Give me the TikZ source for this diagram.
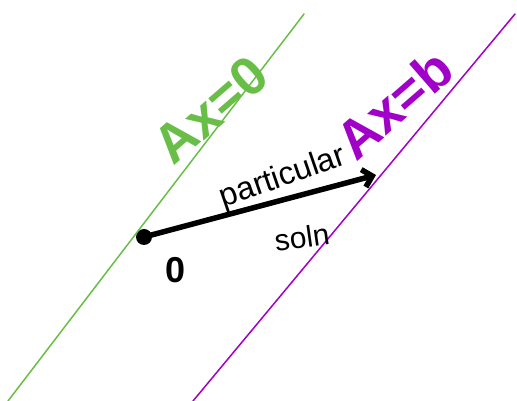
\documentclass[tikz,border=0pt]{standalone}
\usepackage{fontspec}
\usetikzlibrary{arrows.meta}
\setmainfont{Liberation Sans}
\definecolor{nullgreen}{RGB}{104,190,70}
\definecolor{solpurple}{RGB}{160,0,200}
\begin{document}
\begin{tikzpicture}[x=1pt,y=1pt,line cap=round]
\useasboundingbox (0,0) rectangle (517,401);
\coordinate (g1) at (8,0);
\coordinate (g2) at (304,387);
\coordinate (p1) at (193,0);
\coordinate (p2) at (515,387);
\node[circle, fill=black, inner sep=0pt, minimum size=16pt] (o) at (144,164) {};
\coordinate (xp) at (376,226);

\draw[nullgreen, line width=1.5pt] (g1) -- (g2);
\draw[solpurple, line width=1.5pt] (p1) -- (p2);
\draw[->, line width=5.5pt, >={Straight Barb[length=9pt,width=18pt]}] (o.center) -- (xp);

\node[nullgreen, rotate=41, inner sep=0pt, font=\bfseries\fontsize{54}{58}\selectfont] (lg) at (211,291) {Ax=0};
\node[solpurple, rotate=41, inner sep=0pt, font=\bfseries\fontsize{54}{58}\selectfont] (lp) at (394,297) {Ax=b};
\node[rotate=19, inner sep=0pt, font=\fontsize{32}{36}\selectfont] (lpart) at (283,223) {particular};
\node[rotate=8, inner sep=0pt, font=\fontsize{30}{34}\selectfont] (lsoln) at (302,164) {soln};
\node[inner sep=0pt, font=\bfseries\fontsize{36}{40}\selectfont] (lo) at (176,131) {0};
\end{tikzpicture}
\end{document}
